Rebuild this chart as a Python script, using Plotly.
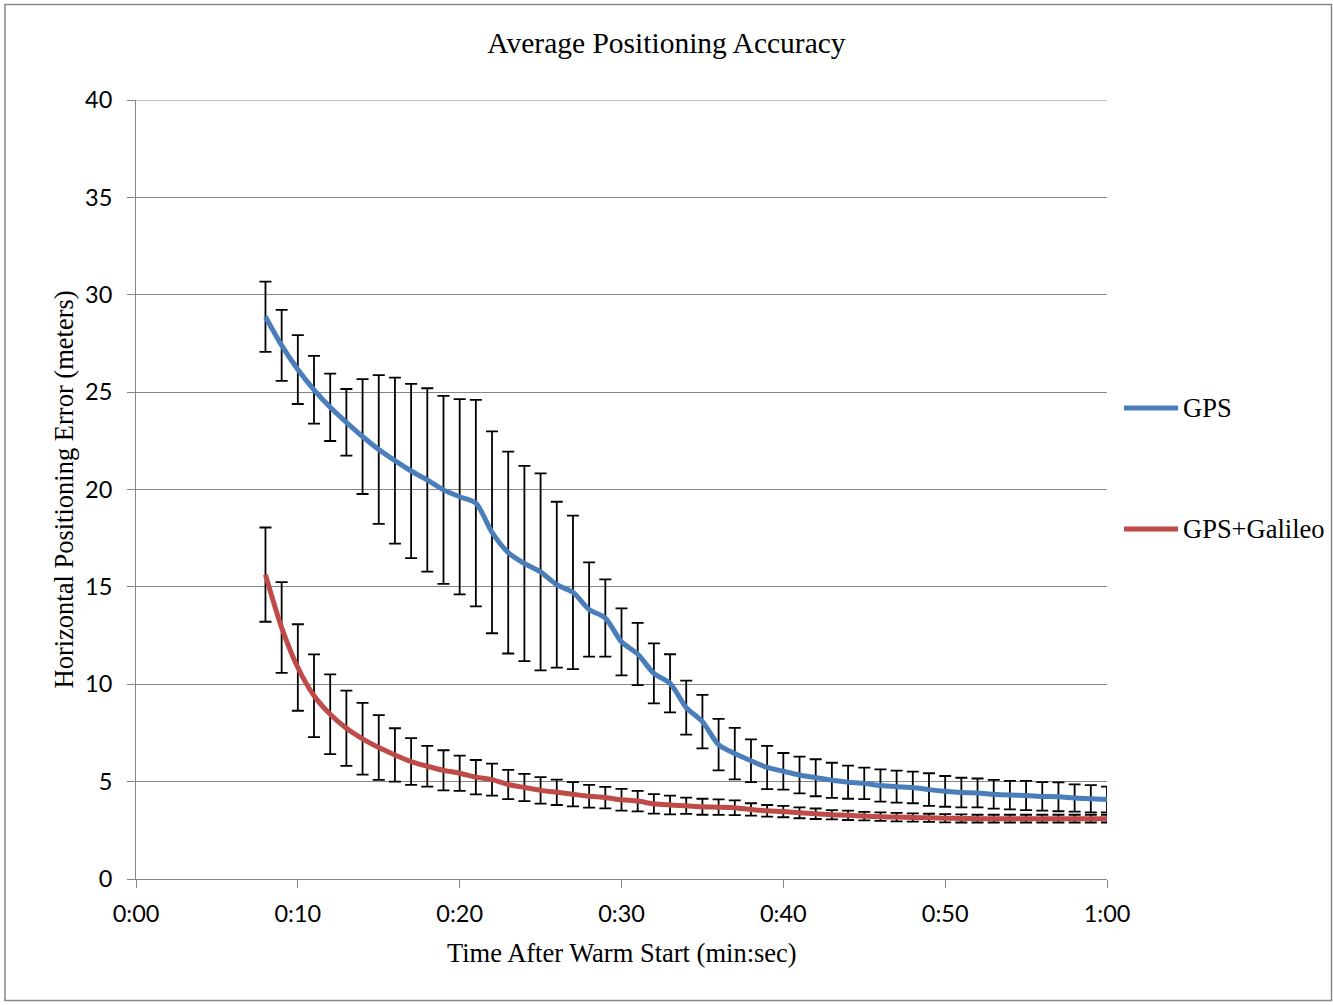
import plotly.graph_objects as go

# ---- data ----
seconds = list(range(8, 61))

gps_mean = [28.87, 27.40, 26.16, 25.12, 24.22, 23.45, 22.72, 22.05, 21.48, 20.95,
            20.49, 19.98, 19.63, 19.30, 17.80, 16.76, 16.20, 15.77, 15.11, 14.72,
            13.84, 13.40, 12.18, 11.55, 10.56, 10.05, 8.80, 8.08, 6.90, 6.44,
            6.07, 5.73, 5.53, 5.34, 5.20, 5.07, 4.97, 4.91, 4.80, 4.74,
            4.70, 4.59, 4.50, 4.44, 4.42, 4.35, 4.31, 4.29, 4.24, 4.22,
            4.16, 4.12, 4.08]
gps_err = [1.80, 1.82, 1.77, 1.74, 1.73, 1.71, 2.95, 3.82, 4.26, 4.47,
           4.71, 4.83, 5.01, 5.30, 5.18, 5.18, 5.01, 5.06, 4.26, 3.94,
           2.42, 1.98, 1.72, 1.60, 1.54, 1.49, 1.39, 1.37, 1.32, 1.32,
           1.10, 1.11, 0.94, 0.94, 0.95, 0.90, 0.85, 0.81, 0.83, 0.82,
           0.81, 0.84, 0.79, 0.76, 0.74, 0.74, 0.73, 0.75, 0.73, 0.74,
           0.70, 0.70, 0.66]

gal_mean = [15.63, 12.91, 10.86, 9.41, 8.46, 7.74, 7.20, 6.75, 6.37, 6.03,
            5.79, 5.58, 5.43, 5.23, 5.10, 4.85, 4.70, 4.55, 4.45, 4.35,
            4.25, 4.18, 4.07, 4.00, 3.86, 3.80, 3.76, 3.71, 3.69, 3.66,
            3.57, 3.50, 3.46, 3.40, 3.35, 3.30, 3.27, 3.23, 3.20, 3.18,
            3.16, 3.14, 3.12, 3.11, 3.10, 3.10, 3.10, 3.10, 3.10, 3.10,
            3.10, 3.10, 3.10]
gal_err = [2.42, 2.33, 2.22, 2.12, 2.05, 1.93, 1.84, 1.66, 1.37, 1.20,
           1.05, 1.03, 0.90, 0.88, 0.82, 0.75, 0.70, 0.68, 0.65, 0.62,
           0.58, 0.55, 0.56, 0.53, 0.50, 0.48, 0.42, 0.41, 0.40, 0.38,
           0.32, 0.30, 0.29, 0.28, 0.27, 0.24, 0.24, 0.22, 0.22, 0.22,
           0.21, 0.21, 0.21, 0.21, 0.20, 0.20, 0.20, 0.20, 0.20, 0.20,
           0.20, 0.20, 0.20]

x_tick_vals = [0, 10, 20, 30, 40, 50, 60]
x_tick_text = ["0:00", "0:10", "0:20", "0:30", "0:40", "0:50", "1:00"]
series_names = ["GPS", "GPS+Galileo"]
series_colors = ["#4A7EBB", "#BE4B48"]

# ---- figure ----
W, H = 1333, 1005
L, R, T, B = 136, 226, 100, 126
pw, ph = W - L - R, H - T - B

fig = go.Figure()
for name, mean, err, color in [(series_names[0], gps_mean, gps_err, series_colors[0]),
                               (series_names[1], gal_mean, gal_err, series_colors[1])]:
    fig.add_trace(go.Scatter(
        x=seconds, y=mean, name=name, mode="lines",
        line=dict(color=color, width=5, shape="spline", smoothing=0.8),
        error_y=dict(type="data", array=err, visible=True, color="black",
                     thickness=1.8, width=6),
        showlegend=False,
    ))

grid = "#868686"
tickfont = dict(family="Lato", size=23.5, color="black")
fig.update_layout(
    width=W, height=H,
    margin=dict(l=L, r=R, t=T, b=B),
    paper_bgcolor="white", plot_bgcolor="white",
    title=dict(text="Average Positioning Accuracy", x=0.5, xref="container",
               y=1 - 43 / H, yref="container", xanchor="center", yanchor="middle",
               font=dict(family="Liberation Serif", size=29.5, color="black")),
    xaxis=dict(range=[0, 60], tickvals=x_tick_vals, ticktext=x_tick_text,
               showgrid=False, zeroline=False, showline=True, linecolor=grid,
               linewidth=1, ticks="outside", ticklen=8, tickcolor=grid,
               ticklabelstandoff=6, tickfont=tickfont),
    yaxis=dict(range=[0, 40], dtick=5, showgrid=True, gridcolor=grid, gridwidth=1,
               zeroline=False, showline=True, linecolor=grid, linewidth=1,
               ticks="outside", ticklen=8, tickcolor=grid,
               ticklabelstandoff=10, tickfont=tickfont),
)

# top gridline at 40
fig.add_shape(type="line", xref="paper", yref="y", x0=0, x1=1, y0=40, y1=40,
              line=dict(color=grid, width=1), layer="below")

serif = dict(family="Liberation Serif", size=26.5, color="black")
# axis titles
fig.add_annotation(text="Time After Warm Start (min:sec)", x=0.5, xref="paper",
                   y=(879 - 953) / ph, yref="paper", showarrow=False,
                   xanchor="center", yanchor="middle", font=serif)
fig.add_annotation(text="Horizontal Positioning Error (meters)", x=(63 - L) / pw, xref="paper",
                   y=0.5, yref="paper", showarrow=False, textangle=-90,
                   xanchor="center", yanchor="middle", font=serif)

# legend (drawn manually to match sample length and spacing)
for name, color, py in [(series_names[0], series_colors[0], 408),
                        (series_names[1], series_colors[1], 529)]:
    yp = (879 - py) / ph
    fig.add_shape(type="line", xref="paper", yref="paper",
                  x0=(1124 - L) / pw, x1=(1178 - L) / pw, y0=yp, y1=yp,
                  line=dict(color=color, width=5))
    fig.add_annotation(text=name, x=(1181 - L) / pw, xref="paper", y=yp, yref="paper",
                       showarrow=False, xanchor="left", yanchor="middle", font=serif)

# chart border
fig.add_shape(type="rect", xref="paper", yref="paper",
              x0=(5 - L) / pw, x1=(1331.5 - L) / pw,
              y0=(879 - 1000.5) / ph, y1=(879 - 4.5) / ph,
              line=dict(color="#878787", width=1.5), fillcolor="rgba(0,0,0,0)", layer="below")

fig.write_html("out.html")
